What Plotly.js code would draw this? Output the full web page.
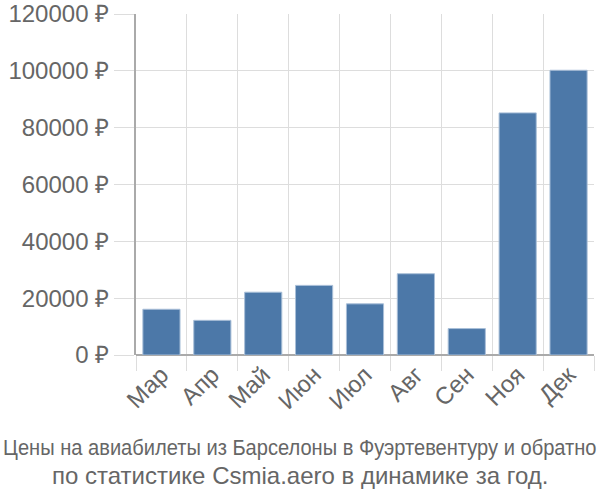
<!DOCTYPE html>
<html><head><meta charset="utf-8">
<script src="https://cdn.plot.ly/plotly-3.0.1.min.js"></script>
<style>body{margin:0}#c{width:600px;height:500px}</style>
</head><body><div id="c"></div>
<script>
const months = ["Мар","Апр","Май","Июн","Июл","Авг","Сен","Ноя","Дек"];
const prices = [16100, 12200, 22100, 24500, 18000, 28600, 9300, 85200, 100200];
const yTicks = [0,20000,40000,60000,80000,100000,120000];
const yTickText = yTicks.map(v => v + " ₽");
const titleLines = ["Цены на авиабилеты из Барселоны в Фуэртевентуру и обратно","по статистике Csmia.aero в динамике за год."];

const F = '"Liberation Sans", Arial, sans-serif';
Plotly.newPlot('c', [{
  type:'bar', x: months, y: prices,
  marker:{color:'#4c78a8', line:{color:'#a9bfd8', width:1}},
  hoverinfo:'none'
}], {
  width:600, height:500,
  margin:{l:136, r:6, t:14, b:145},
  paper_bgcolor:'#fff', plot_bgcolor:'#fff',
  bargap:0.27,
  font:{family:F, color:'#666'},
  xaxis:{type:'category', tickson:'boundaries', showgrid:true, gridcolor:'#ddd', gridwidth:1,
    ticks:'outside', ticklen:15, tickcolor:'#ddd', tickangle:-45,
    tickfont:{size:24, color:'#666'}, showline:false, zeroline:false},
  yaxis:{range:[0,120000], tickvals:yTicks, ticktext:yTickText, showgrid:true, gridcolor:'#ddd',
    ticks:'outside', ticklen:20, tickcolor:'#ddd', tickfont:{size:24, color:'#666'},
    showline:true, linecolor:'#aaa', linewidth:2, zeroline:true, zerolinecolor:'#aaa', zerolinewidth:2},
  annotations:[
    {text:titleLines[0], xref:'paper', yref:'paper', x:0.358, xanchor:'center', y:-0.27, yanchor:'middle', showarrow:false, font:{size:23, color:'#666'}},
    {text:titleLines[1], xref:'paper', yref:'paper', x:0.358, xanchor:'center', y:-0.352, yanchor:'middle', showarrow:false, font:{size:24, color:'#666'}}
  ],
  showlegend:false
}, {staticPlot:true}).then(() => {
  const t = document.querySelectorAll('.annotation-text')[0];
  if (t) {
    const b = t.getBBox();
    const s = 594 / b.width;
    const cx = b.x + b.width / 2;
    t.setAttribute('transform', `translate(${cx * (1 - s)},0) scale(${s},1)`);
  }
});
</script></body></html>
